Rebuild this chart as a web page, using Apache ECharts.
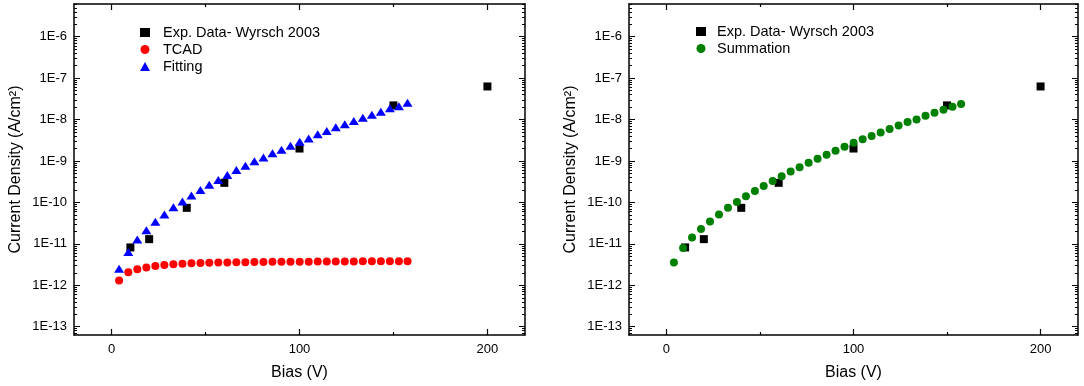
<!DOCTYPE html>
<html>
<head>
<meta charset="utf-8">
<title>Current density vs bias</title>
<script src="https://cdn.jsdelivr.net/npm/echarts@6/dist/echarts.min.js"></script>
<style>
	html, body { margin: 0; padding: 0; background: #fff; }
	#chart01 { width: 1084px; height: 386px; }
</style>
</head>
<body>
<div id="chart01"></div>
<script>
// Exp. Data- Wyrsch 2003 (V, A/cm2)
var expBias = [10, 20, 40, 60, 100, 150, 200];
var expJ = [8.2e-12, 1.3e-11, 7.4e-11, 2.97e-10, 2.0e-9, 2.2e-8, 6.3e-8];

// simulated bias points (V)
var simBias = [4.0, 8.9, 13.7, 18.5, 23.3, 28.1, 32.9, 37.7, 42.5, 47.3, 52.0,
	56.8, 61.6, 66.4, 71.2, 76.0, 80.8, 85.6, 90.4, 95.2, 100.1, 104.9,
	109.7, 114.5, 119.3, 124.1, 128.9, 133.7, 138.5, 143.3, 148.1, 152.9, 157.5];

var tcadJ = [1.3e-12, 2.05e-12, 2.45e-12, 2.7e-12, 2.93e-12, 3.1e-12, 3.22e-12, 3.33e-12,
	3.4e-12, 3.46e-12, 3.5e-12, 3.54e-12, 3.57e-12, 3.6e-12, 3.62e-12, 3.64e-12,
	3.66e-12, 3.68e-12, 3.69e-12, 3.7e-12, 3.71e-12, 3.72e-12, 3.73e-12, 3.74e-12,
	3.75e-12, 3.76e-12, 3.77e-12, 3.78e-12, 3.78e-12, 3.79e-12, 3.8e-12, 3.8e-12, 3.81e-12];

var fitJ = [2.5e-12, 6.4e-12, 1.28e-11, 2.14e-11, 3.4e-11, 5.1e-11, 7.7e-11, 1.06e-10,
	1.48e-10, 2.0e-10, 2.66e-10, 3.5e-10, 4.6e-10, 6.1e-10, 7.7e-10, 9.8e-10,
	1.22e-9, 1.53e-9, 1.87e-9, 2.35e-9, 2.9e-9, 3.5e-9, 4.4e-9, 5.3e-9,
	6.5e-9, 7.7e-9, 9.2e-9, 1.1e-8, 1.3e-8, 1.54e-8, 1.87e-8, 2.1e-8, 2.55e-8];

var sumJ = [3.55e-12, 8.0e-12, 1.43e-11, 2.27e-11, 3.47e-11, 5.13e-11, 7.4e-11, 1.03e-10,
	1.42e-10, 1.9e-10, 2.5e-10, 3.3e-10, 4.3e-10, 5.6e-10, 7.1e-10, 9.05e-10,
	1.13e-9, 1.41e-9, 1.76e-9, 2.2e-9, 2.75e-9, 3.33e-9, 3.99e-9, 4.9e-9,
	5.9e-9, 7.2e-9, 8.7e-9, 1.01e-8, 1.24e-8, 1.46e-8, 1.73e-8, 2.04e-8, 2.37e-8];

// ticks
var xLabelValues = [0, 100, 200];
var xMinorValues = [50, 150];
var yLabelValues = [1e-13, 1e-12, 1e-11, 1e-10, 1e-9, 1e-8, 1e-7, 1e-6];
var yMinorValues = [];
for (var e = -14; e <= -6; e++) {
	for (var m = 2; m <= 9; m++) {
		yMinorValues.push(Number((m + 'e' + e)));
	}
}

var font = 'Liberation Sans, Arial, sans-serif';
var expName = 'Exp. Data- Wyrsch 2003';

var pairs = function (xs, ys) {
	var out = [];
	for (var i = 0; i < xs.length; i++) {
		out.push([xs[i], ys[i]]);
	}
	return out;
};

var xAxes = function (g) {
	var make = function (pos, ticks, len, main) {
		return {
			gridIndex: g,
			type: 'value',
			position: pos,
			min: -20,
			max: 220,
			splitLine: {show: false},
			axisLine: {show: main, onZero: false, lineStyle: {color: '#000', width: 1.5}},
			axisTick: {show: true, inside: true, length: len, customValues: ticks, lineStyle: {color: '#000', width: 1.2}},
			axisLabel: {
				show: main && pos == 'bottom',
				customValues: xLabelValues,
				margin: 8,
				color: '#000',
				fontSize: 13,
				fontFamily: font
			},
			name: (main && pos == 'bottom') ? 'Bias (V)' : '',
			nameLocation: 'middle',
			nameGap: 30,
			nameTextStyle: {color: '#000', fontSize: 16, fontFamily: font}
		};
	};
	return [
		make('bottom', xLabelValues, 6, true),
		make('bottom', xMinorValues, 3, false),
		make('top', xLabelValues, 6, true),
		make('top', xMinorValues, 3, false)
	];
};

var yAxes = function (g) {
	var make = function (pos, ticks, len, main) {
		return {
			gridIndex: g,
			type: 'log',
			logBase: 10,
			position: pos,
			min: Math.pow(10, -13.2),
			max: Math.pow(10, -5.21),
			splitLine: {show: false},
			axisLine: {show: main, onZero: false, lineStyle: {color: '#000', width: 1.5}},
			axisTick: {show: true, inside: true, length: len, customValues: ticks, lineStyle: {color: '#000', width: 1}},
			axisLabel: {
				show: main && pos == 'left',
				customValues: yLabelValues,
				margin: 7,
				color: '#000',
				fontSize: 13,
				fontFamily: font,
				formatter: function (v) {
					return '1E' + Math.round(Math.log(v) / Math.LN10);
				}
			},
			name: (main && pos == 'left') ? 'Current Density (A/cm²)' : '',
			nameLocation: 'middle',
			nameGap: 50,
			nameTextStyle: {color: '#000', fontSize: 16, fontFamily: font}
		};
	};
	return [
		make('left', yLabelValues, 6, true),
		make('left', yMinorValues, 3, false),
		make('right', yLabelValues, 6, true),
		make('right', yMinorValues, 3, false)
	];
};

var chart = echarts.init(document.getElementById('chart01'));
var option = {
	animation: false,
	backgroundColor: '#fff',
	grid: [
		{left: 74, top: 4, width: 451, height: 331},
		{left: 629, top: 4, width: 449, height: 331}
	],
	legend: [
		{
			orient: 'vertical',
			left: 135,
			top: 19,
			itemWidth: 10,
			itemHeight: 9,
			itemGap: 0,
			textStyle: {color: '#000', fontSize: 14.5, fontFamily: font, lineHeight: 17, padding: [0, 0, 0, 8]},
			data: [
				{name: expName, icon: 'rect'},
				{name: 'TCAD', icon: 'circle'},
				{name: 'Fitting', icon: 'triangle'}
			]
		},
		{
			orient: 'vertical',
			left: 691,
			top: 18,
			itemWidth: 10,
			itemHeight: 9,
			itemGap: 0,
			textStyle: {color: '#000', fontSize: 14.5, fontFamily: font, lineHeight: 17, padding: [0, 0, 0, 6]},
			data: [
				{name: expName, icon: 'rect'},
				{name: 'Summation', icon: 'circle'}
			]
		}
	],
	xAxis: xAxes(0).concat(xAxes(1)),
	yAxis: yAxes(0).concat(yAxes(1)),
	series: [
		{
			name: expName,
			type: 'scatter',
			xAxisIndex: 0,
			yAxisIndex: 0,
			symbol: 'rect',
			symbolSize: 8,
			itemStyle: {color: '#000', opacity: 1},
			data: pairs(expBias, expJ)
		},
		{
			name: 'TCAD',
			type: 'scatter',
			xAxisIndex: 0,
			yAxisIndex: 0,
			symbol: 'circle',
			symbolSize: 8,
			itemStyle: {color: '#ff0000', opacity: 1},
			data: pairs(simBias, tcadJ)
		},
		{
			name: 'Fitting',
			type: 'scatter',
			xAxisIndex: 0,
			yAxisIndex: 0,
			symbol: 'triangle',
			symbolSize: [10, 8],
			itemStyle: {color: '#0000ff', opacity: 1},
			data: pairs(simBias, fitJ)
		},
		{
			name: expName,
			type: 'scatter',
			xAxisIndex: 4,
			yAxisIndex: 4,
			symbol: 'rect',
			symbolSize: 8,
			itemStyle: {color: '#000', opacity: 1},
			data: pairs(expBias, expJ)
		},
		{
			name: 'Summation',
			type: 'scatter',
			xAxisIndex: 4,
			yAxisIndex: 4,
			symbol: 'circle',
			symbolSize: 8,
			itemStyle: {color: '#008000', opacity: 1},
			data: pairs(simBias, sumJ)
		}
	]
};
chart.setOption(option);
</script>
</body>
</html>
